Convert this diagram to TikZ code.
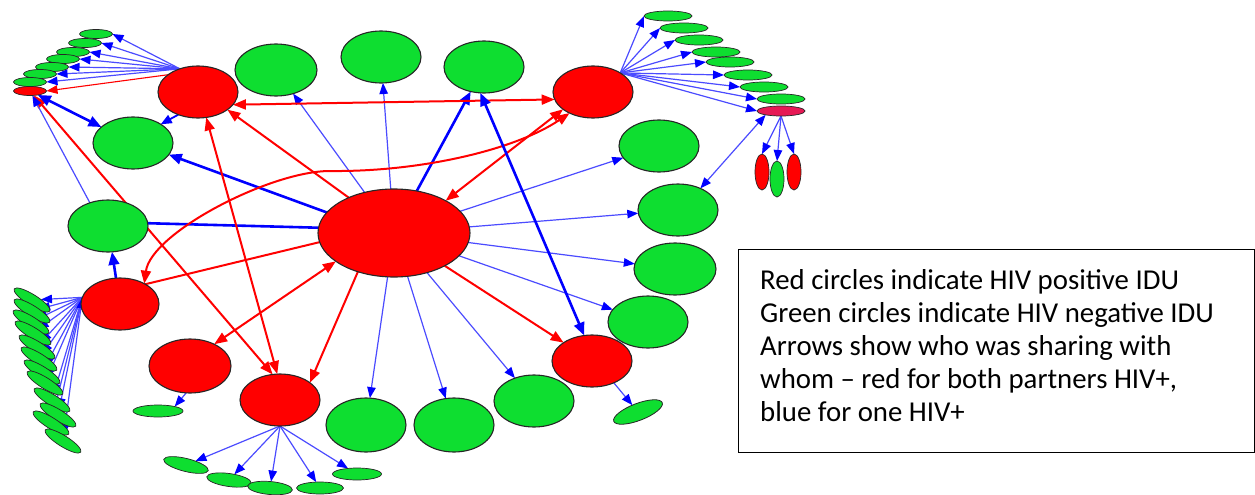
\documentclass[tikz,border=0pt]{standalone}
\usepackage{fontspec}
\newfontfamily\calib{Carlito}
\usetikzlibrary{shapes.geometric,arrows.meta}
\definecolor{hivred}{RGB}{255,0,0}
\definecolor{hivgreen}{RGB}{14,222,48}
\definecolor{hivcrimson}{RGB}{230,25,85}
\definecolor{linkblue}{RGB}{75,75,255}
\pgfdeclarelayer{edges}
\pgfsetlayers{edges,main}
\tikzset{
  basenode/.style={ellipse, draw=black!85, line width=1.1pt, inner sep=0pt, outer sep=0pt},
  posnode/.style={basenode, fill=hivred},
  negnode/.style={basenode, fill=hivgreen},
  midsize/.style={minimum width=80pt, minimum height=52pt},
  leafsize/.style={minimum width=33pt, minimum height=9pt, line width=0.7pt},
  wingsize/.style={minimum width=48pt, minimum height=10pt, line width=0.7pt},
  slantsize/.style={minimum width=42pt, minimum height=11pt, line width=0.7pt, rotate=-32},
  podsize/.style={minimum width=14pt, minimum height=36pt, line width=0.7pt},
  thinb/.style={draw=linkblue, line width=1.2pt, -{Triangle[length=11pt,width=8.5pt,color=blue]}},
  thinbb/.style={draw=linkblue, line width=1.2pt, {Triangle[length=11pt,width=8.5pt,color=blue]}-{Triangle[length=11pt,width=8.5pt,color=blue]}},
  medb/.style={draw=blue, line width=1.8pt, -{Triangle[length=11pt,width=9pt]}},
  thickb/.style={draw=blue, line width=2.6pt, -{Triangle[length=13pt,width=10.5pt]}},
  thickbb/.style={draw=blue, line width=2.6pt, {Triangle[length=13pt,width=10.5pt]}-{Triangle[length=13pt,width=10.5pt]}},
  thickplain/.style={draw=blue, line width=2.6pt},
  redplain/.style={draw=red, line width=2pt},
  redl/.style={draw=red, line width=2pt, -{Triangle[length=13pt,width=10pt]}},
  redlb/.style={draw=red, line width=2pt, {Triangle[length=13pt,width=10pt]}-{Triangle[length=13pt,width=10pt]}},
  redthin/.style={draw=red, line width=1.1pt, -{Triangle[length=11pt,width=8.5pt]}},
  legtext/.style={font=\calib\fontsize{28.8pt}{33pt}\selectfont, anchor=base west, inner sep=0pt},
}
\begin{document}
\begin{tikzpicture}[x=1pt,y=-1pt]
\useasboundingbox (0,0) rectangle (1255,495);

% hub and the ring around it
\node[posnode, minimum width=152pt, minimum height=88pt] (H) at (394,233) {};
\node[posnode, midsize] (R1) at (198,92) {};
\node[negnode, midsize] (G1) at (133,143) {};
\node[negnode, midsize] (G2) at (108,226) {};
\node[posnode, midsize, minimum width=78pt] (R2) at (120,304) {};
\node[posnode, midsize, minimum width=82pt, minimum height=54pt] (R3) at (190,366) {};
\node[posnode, midsize] (R4) at (280,400) {};
\node[negnode, midsize, minimum height=54pt] (GB1) at (366,425) {};
\node[negnode, midsize, minimum height=54pt] (GB2) at (454,425) {};
\node[negnode, midsize] (GB3) at (534,401) {};
\node[posnode, midsize] (R5) at (592,361) {};
\node[negnode, minimum width=52pt, minimum height=17pt, rotate=21, line width=0.8pt] (SR) at (638,412) {};
\node[negnode, midsize] (GR1) at (648,322) {};
\node[negnode, midsize, minimum width=82pt] (GR2) at (675,269) {};
\node[negnode, midsize] (GR3) at (678,210) {};
\node[negnode, midsize] (GR4) at (659,146) {};
\node[posnode, midsize] (R6) at (593,92) {};
\node[negnode, midsize] (GT1) at (484,67) {};
\node[negnode, midsize] (GT2) at (381,57) {};
\node[negnode, midsize, minimum width=82pt] (GT3) at (276,70) {};
\node[negnode, minimum width=50pt, minimum height=12pt, line width=0.7pt] (S3) at (158,411) {};

% top-left fan of R1
\foreach \n/\p in {1/{96,34},2/{85,43},3/{73,52},4/{63,59},5/{52,67},6/{40,74},7/{30,82}}
  \node[negnode, leafsize] (e\n) at (\p) {};
\node[posnode, leafsize] (e8) at (30,91) {};

% top-right fan of R6
\foreach \n/\p in {1/{668,16},2/{684,28},3/{699,40},4/{716,52},5/{730,62},6/{748,75},7/{764,87},8/{781,99}}
  \node[negnode, wingsize] (f\n) at (\p) {};
\node[basenode, wingsize, fill=hivcrimson] (f9) at (781,111) {};
\node[posnode, podsize] (V1) at (762,172) {};
\node[negnode, podsize] (V2) at (777,179) {};
\node[posnode, podsize] (V3) at (794,172) {};

% left fan of R2
\foreach \n/\p in {1/{32,300},2/{32,311},3/{31,322},4/{33,333},5/{37,347},6/{39,359},7/{42,372},8/{45,383},9/{52,400},10/{58,415},11/{51,423},12/{63,441}}
  \node[negnode, slantsize] (L\n) at (\p) {};

% bottom fan of R4
\node[negnode, minimum width=46pt, minimum height=13pt, rotate=-14, line width=0.7pt] (b1) at (186,465) {};
\node[negnode, minimum width=45pt, minimum height=13pt, rotate=-8, line width=0.7pt] (b2) at (229,480) {};
\node[negnode, minimum width=45pt, minimum height=13pt, rotate=-5, line width=0.7pt] (b3) at (270,488) {};
\node[negnode, minimum width=47pt, minimum height=12pt, line width=0.7pt] (b4) at (320,488) {};
\node[negnode, minimum width=49pt, minimum height=12pt, line width=0.7pt] (b5) at (357,474) {};

\coordinate (bend) at (330,171);

\begin{pgfonlayer}{edges}
  % links from the hub
  \draw[thinb] (H) -- (GT3);
  \draw[thinb] (H) -- (GT2);
  \draw[thickb] (H) -- (GT1);
  \draw[thinb] (H) -- (GR4);
  \draw[thinb] (H) -- (GR3);
  \draw[thinb] (H) -- (GR2);
  \draw[thinb] (H) -- (GR1);
  \draw[thinb] (H) -- (GB3);
  \draw[thinb] (H) -- (GB2);
  \draw[thinb] (H) -- (GB1);
  \draw[thickb] (H.163) -- (G1.342);
  \draw[thickplain] (H.176) -- (G2.4);
  \draw[redl] (H) -- (R5);
  \draw[redl] (H.227) -- (R4.30);
  \draw[redlb] (H.206) -- (R3.42);
  \draw[redplain] (H.187) -- (R2.38);
  \draw[redl] (H.142) -- (R1.329);
  \draw[redlb] (H.32) -- (R6.210);
  % links among the ring
  \draw[redlb] (R6.191) -- (R1.340);
  \draw[redlb] (R6.222) .. controls (515,150) and (420,172) .. (bend)
                        .. controls (270,171) and (151,233) .. (R2.40);
  \draw[redlb] (R1.288) -- (R4.96);
  \draw[redlb] (e8) -- (R4.106);
  \draw[thickbb] (e8) -- (G1);
  \draw[thinb] (G2.128) -- (e8);
  \draw[medb] (R1.229) -- (G1.34);
  \draw[thickb] (R2) -- (G2);
  \draw[thickbb] (GT1.262) -- (R5.107);
  \draw[thinb] (R3.262) -- (S3.15);
  \draw[thinb] (R5.315) -- (SR);
  % fans
  \foreach \n in {1,...,7} \draw[thinb] (R1.128) -- (e\n.east);
  \draw[redthin] (R1.150) -- (e8.east);
  \foreach \n in {1,...,9} \draw[thinb] (R6.35) -- (f\n.west);
  \draw[thinbb] (f9.194) -- (GR3.44);
  \foreach \n in {1,2,3} \draw[thinb] (f9.south) -- (V\n.north);
  \foreach \n in {1,...,11} \draw[thinb] (R2.170) -- (L\n);
  \draw[thinbb] (R2.170) -- (L12);
  \foreach \n in {1,...,5} \draw[thinb] (R4.south) -- (b\n);
\end{pgfonlayer}

% legend
\node[draw=black, line width=1.4pt, minimum width=516pt, minimum height=203pt,
      anchor=north west, inner sep=0pt] (legend) at (738,249) {};
\node[legtext] (leg1) at (760,289) {Red circles indicate HIV positive IDU};
\node[legtext] (leg2) at (760,322) {Green circles indicate HIV negative IDU};
\node[legtext] (leg3) at (760,355) {Arrows show who was sharing with};
\node[legtext] (leg4) at (760,388) {whom – red for both partners HIV+,};
\node[legtext] (leg5) at (760,421) {blue for one HIV+};
\end{tikzpicture}
\end{document}
